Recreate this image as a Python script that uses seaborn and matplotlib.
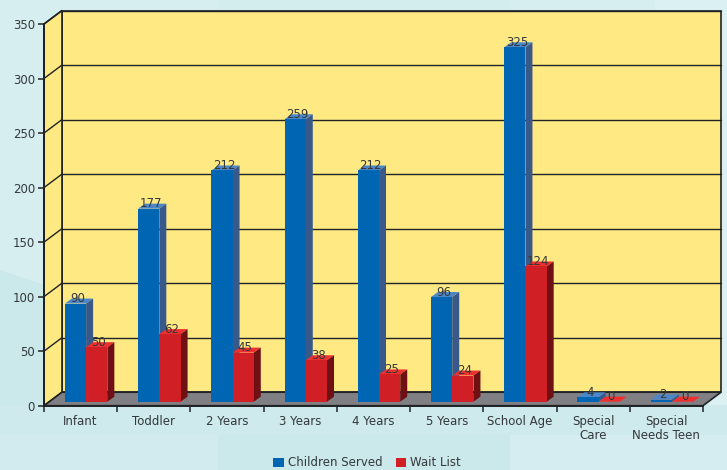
import numpy as np
import pandas as pd
import seaborn as sns
import matplotlib.pyplot as plt
from matplotlib.patches import Polygon
from matplotlib.transforms import Affine2D

categories = ["Infant", "Toddler", "2 Years", "3 Years", "4 Years", "5 Years",
              "School Age", "Special\nCare", "Special\nNeeds Teen"]
children_served = [90, 177, 212, 259, 212, 96, 325, 4, 2]
wait_list = [50, 62, 45, 38, 25, 24, 124, 0, 0]
y_ticks = [0, 50, 100, 150, 200, 250, 300, 350]

TXT = "#33383b"
LINE = "#1f2326"
W, H = 727, 470

df = pd.DataFrame({
    "category": categories * 2,
    "value": children_served + wait_list,
    "series": ["Children Served"] * 9 + ["Wait List"] * 9,
})

sns.set_theme(style="white")
plt.rcParams["font.family"] = ["DejaVu Sans"]
fig = plt.figure(figsize=(W / 100, H / 100), dpi=100, facecolor="#d6eef0")

# soft background panels
bg = fig.add_axes([0, 0, 1, 1], zorder=0)
bg.set_xlim(0, W)
bg.set_ylim(H, 0)
bg.axis("off")
bg.add_patch(Polygon([(0, 270), (44, 285), (44, 405), (0, 405)], color="#cbe8eb", lw=0))
bg.add_patch(Polygon([(0, 405), (727, 405), (727, 435), (0, 435)], color="#cfeaed", lw=0))
bg.add_patch(Polygon([(0, 435), (218, 435), (218, 470), (0, 470)], color="#d1ebee", lw=0))
bg.add_patch(Polygon([(218, 435), (510, 435), (510, 470), (218, 470)], color="#cbe8eb", lw=0))
bg.add_patch(Polygon([(510, 435), (727, 435), (727, 470), (510, 470)], color="#d5edf0", lw=0))
bg.add_patch(Polygon([(218, 0), (510, 0), (510, 10), (218, 10)], color="#d3edee", lw=0))
bg.add_patch(Polygon([(655, 0), (727, 0), (727, 405), (655, 405)], color="#daf0f3", lw=0))

ax = fig.add_axes([44 / W, 1 - 405.7 / H, 659 / W, 381.7 / H], zorder=1)
ax.patch.set_alpha(0)

sns.barplot(data=df, x="category", y="value", hue="series", order=categories,
            palette=["#0066b3", "#d01f25"], width=0.58, gap=0, saturation=1,
            linewidth=0, ax=ax, zorder=5)
ax.set_xlim(-0.5, 8.5)
ax.set_ylim(0, 350)


def shift(px, py):
    return ax.transData + Affine2D().translate(px, py)


# walls and floor, pushed back by the 3d depth
back = shift(18, 13.5)
x0, x1 = -0.5, 8.5
ax.add_patch(Polygon([(x0, 0), (x1, 0), (x1, 350), (x0, 350)], transform=back,
                     fc="#ffe982", ec=LINE, lw=1.2, zorder=1, clip_on=False))
left_wall = ax.transData.transform([(x0, 0), (x0, 350)])
left_wall = [left_wall[0], left_wall[1], left_wall[1] + (18, 13.5), left_wall[0] + (18, 13.5)]
ax.add_patch(Polygon(left_wall, transform=None, fc="#ffe982", ec=LINE, lw=1.2, zorder=1, clip_on=False))
floor = ax.transData.transform([(x0, 0), (x1, 0)])
floor = [floor[0], floor[1], floor[1] + (18, 13.5), floor[0] + (18, 13.5)]
ax.add_patch(Polygon(floor, transform=None, fc="#808084", ec=LINE, lw=1.2, zorder=2, clip_on=False))

# grid on the walls
for t in y_ticks[1:]:
    ax.plot([x0, x1], [t, t], transform=back, color=LINE, lw=1, zorder=1.5, clip_on=False)
    p = ax.transData.transform((x0, t))
    ax.plot([p[0], p[0] + 18], [p[1], p[1] + 13.5], transform=None, color=LINE, lw=1, zorder=1.5, clip_on=False)

# 3d faces on the bars
bar_shift = (5.5, 4)
depth = (7, 5)
faces = {0: ("#4a86c8", "#38598a"), 1: ("#ee3030", "#6f1015")}
values = [children_served, wait_list]
for s, container in enumerate(ax.containers[:2]):
    top_c, side_c = faces[s]
    for i, bar in enumerate(container):
        bar.set_transform(shift(*bar_shift))
        bar.set_clip_on(False)
        bar.set_zorder(5 + 2 * s)
        a, b = bar.get_x(), bar.get_x() + bar.get_width()
        v = values[s][i]
        pa = ax.transData.transform((a, v)) + bar_shift
        pb = ax.transData.transform((b, v)) + bar_shift
        pz = ax.transData.transform((b, 0)) + bar_shift
        d = np.array(depth)
        ax.add_patch(Polygon([pa, pb, pb + d, pa + d], transform=None, fc=top_c, lw=0,
                             zorder=4 + 2 * s, clip_on=False))
        ax.add_patch(Polygon([pb, pz, pz + d, pb + d], transform=None, fc=side_c, lw=0,
                             zorder=4 + 2 * s, clip_on=False))
        ax.annotate(str(v), ((a + b) / 2, v), xytext=(2, 5), textcoords="offset pixels",
                    xycoords=shift(*bar_shift), ha="center", va="center", fontsize=8.5,
                    color=TXT, zorder=20, annotation_clip=False)

# axes
sns.despine(ax=ax)
for side in ("left", "bottom"):
    ax.spines[side].set_color(LINE)
    ax.spines[side].set_linewidth(1.4)
    ax.spines[side].set_zorder(3)
ax.set_xlabel("")
ax.set_ylabel("")
ax.set_yticks(y_ticks)
ax.set_xticks(range(9), categories)
ax.set_xticks(np.arange(-0.5, 9, 1), minor=True)
ax.tick_params(axis="x", which="major", length=0, pad=6.5, labelsize=8.5, colors=TXT)
ax.tick_params(axis="x", which="minor", length=4.5, width=1.1, color=LINE, direction="out", bottom=True)
ax.tick_params(axis="y", length=4.5, width=1.1, color=LINE, pad=2, labelsize=8.5, labelcolor=TXT, left=True)
for lab in ax.get_xticklabels():
    lab.set_linespacing(1.15)

sns.move_legend(ax, "lower center", bbox_to_anchor=(0.505, -0.014), bbox_transform=fig.transFigure, ncol=2,
                frameon=False, title=None, fontsize=8.5, handlelength=0.9, handleheight=0.9,
                handletextpad=0.35, columnspacing=1.1, borderpad=0.1, labelcolor=TXT)

fig.savefig("out.png", dpi=100, facecolor=fig.get_facecolor())
